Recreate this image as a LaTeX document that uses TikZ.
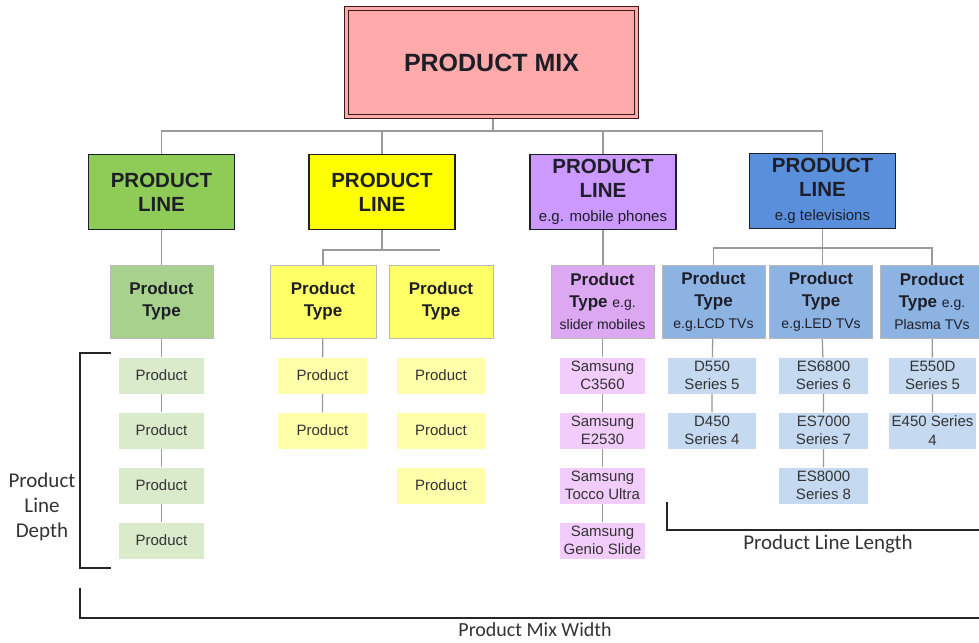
\documentclass[tikz,border=0pt]{standalone}
\usepackage{fontspec}
\setmainfont{Liberation Sans}
\newfontfamily\calib{Carlito}
\usetikzlibrary{backgrounds}
\definecolor{mixfill}{HTML}{FFAAAA}
\definecolor{mixline}{HTML}{3A1A1A}
\definecolor{lgfill}{HTML}{8FCB57}
\definecolor{lyfill}{HTML}{FFFF00}
\definecolor{lpfill}{HTML}{CC99FF}
\definecolor{lbfill}{HTML}{5A8FDB}
\definecolor{tgfill}{HTML}{A9D18E}
\definecolor{tyfill}{HTML}{FFFF66}
\definecolor{tpfill}{HTML}{DDA8F2}
\definecolor{tbfill}{HTML}{8DB3E2}
\definecolor{pgfill}{HTML}{D9EBCB}
\definecolor{pyfill}{HTML}{FFFFAA}
\definecolor{ppfill}{HTML}{F2CCFA}
\definecolor{pbfill}{HTML}{C5D9F1}
\definecolor{textdark}{HTML}{1E1E28}
\definecolor{textgray}{HTML}{333333}
\definecolor{conn}{HTML}{9A9A9A}
\begin{document}
\begin{tikzpicture}[x=1pt,y=-1pt,
  mixbox/.style={draw=mixline, line width=1.3pt, double=mixfill, double distance=2.2pt, fill=mixfill,
    minimum width=290pt, minimum height=108pt, inner sep=0pt, text=textdark,
    font=\fontsize{25}{30}\selectfont\bfseries},
  plbox/.style={draw=textdark, line width=1.2pt, fill=#1, minimum width=146pt, minimum height=75pt,
    align=center, inner sep=0pt, text=textdark, font=\fontsize{20.5}{24}\selectfont\bfseries},
  ptbox/.style={draw=gray!55, line width=0.8pt, fill=#1, minimum width=103pt, minimum height=73pt,
    align=center, inner sep=0pt, text=textdark, font=\fontsize{17}{22}\selectfont\bfseries},
  prodbox/.style={fill=#1, minimum width=87pt, minimum height=36pt, align=center, inner sep=0pt,
    text=textgray, font=\fontsize{15}{18.5}\selectfont},
  connector/.style={draw=conn, line width=1.3pt},
  bracket/.style={draw=black!85, line width=1.6pt},
  lbl/.style={align=center, text=textgray, font=\calib\fontsize{21}{25}\selectfont}
]
\useasboundingbox (0,0) rectangle (979,642);
\clip (0,0) rectangle (979,642);

% top
\node[mixbox] (mix) at (491.5,62.5) {PRODUCT MIX};

% product lines
\node[plbox=lgfill] (lg) at (161.5,192) {PRODUCT\\LINE};
\node[plbox=lyfill] (ly) at (382,192) {PRODUCT\\LINE};
\node[plbox=lpfill] (lp) at (603,192) {PRODUCT\\LINE\\{\fontsize{15}{24}\selectfont\mdseries e.g. mobile phones}};
\node[plbox=lbfill] (lb) at (822.5,191) {PRODUCT\\LINE\\{\fontsize{15}{26}\selectfont\mdseries e.g televisions}};

% product types
\node[ptbox=tgfill] (tg) at (161.5,301.5) {Product\\Type};
\node[ptbox=tyfill, minimum width=106pt] (ty1) at (323,301.5) {Product\\Type};
\node[ptbox=tyfill, minimum width=104pt] (ty2) at (441,301.5) {Product\\Type};
\node[ptbox=tpfill] (tp) at (602.5,301.5) {Product\\Type {\mdseries\fontsize{14}{22}\selectfont e.g.}\\{\mdseries\fontsize{14}{21}\selectfont slider mobiles}};
\node[ptbox=tbfill] (tb1) at (713.5,301.5) {Product\\Type\\{\mdseries\fontsize{14}{21}\selectfont e.g.LCD TVs}};
\node[ptbox=tbfill] (tb2) at (821,301.5) {Product\\Type\\{\mdseries\fontsize{14}{21}\selectfont e.g.LED TVs}};
\node[ptbox=tbfill, minimum width=104pt] (tb3) at (932,301.5) {Product\\Type {\mdseries\fontsize{14}{22}\selectfont e.g.}\\{\mdseries\fontsize{14}{21}\selectfont Plasma TVs}};

% products green
\node[prodbox=pgfill, minimum width=85pt] (g1) at (161.5,375.5) {Product};
\node[prodbox=pgfill, minimum width=85pt] (g2) at (161.5,430.5) {Product};
\node[prodbox=pgfill, minimum width=85pt] (g3) at (161.5,485.5) {Product};
\node[prodbox=pgfill, minimum width=85pt] (g4) at (161.5,540.5) {Product};
% yellow
\node[prodbox=pyfill, minimum width=89pt] (ya1) at (322.5,375.5) {Product};
\node[prodbox=pyfill, minimum width=89pt] (ya2) at (322.5,430.5) {Product};
\node[prodbox=pyfill, minimum width=88pt] (yb1) at (441,375.5) {Product};
\node[prodbox=pyfill, minimum width=88pt] (yb2) at (441,430.5) {Product};
\node[prodbox=pyfill, minimum width=88pt] (yb3) at (441,485.5) {Product};
% purple
\node[prodbox=ppfill, minimum width=85pt] (p1) at (602.5,375.5) {Samsung\\C3560};
\node[prodbox=ppfill, minimum width=85pt] (p2) at (602.5,430.5) {Samsung\\E2530};
\node[prodbox=ppfill, minimum width=85pt] (p3) at (602.5,485.5) {Samsung\\Tocco Ultra};
\node[prodbox=ppfill, minimum width=85pt] (p4) at (602.5,540.5) {Samsung\\Genio Slide};
% blue
\node[prodbox=pbfill, minimum width=88pt] (ba1) at (712,375.5) {D550\\Series 5};
\node[prodbox=pbfill, minimum width=88pt] (ba2) at (712,430.5) {D450\\Series 4};
\node[prodbox=pbfill, minimum width=89pt] (bb1) at (823.5,375.5) {ES6800\\Series 6};
\node[prodbox=pbfill, minimum width=89pt] (bb2) at (823.5,430.5) {ES7000\\Series 7};
\node[prodbox=pbfill, minimum width=89pt] (bb3) at (823.5,485.5) {ES8000\\Series 8};
\node[prodbox=pbfill, minimum width=87pt] (bc1) at (932.5,375.5) {E550D\\Series 5};
\node[prodbox=pbfill, minimum width=87pt] (bc2) at (932.5,430.5) {E450 Series\\4};

% connectors
\begin{scope}[on background layer]
  \coordinate (bus) at (493,131);
  \coordinate (ybus) at (382,250);
  \coordinate (bbus) at (822,248);
  \draw[connector] (mix.south -| bus) -- (bus);
  \draw[connector] (lg.north) |- (lb.north |- bus) -- (lb.north);
  \draw[connector] (ly.north) -- (ly.north |- bus);
  \draw[connector] (lp.north) -- (lp.north |- bus);
  \draw[connector] (lg.south) -- (tg.north);
  \draw[connector] (ly.south) -- (ybus);
  \draw[connector] (ty1.north) |- (440,250);
  \draw[connector] (lp.south) -- (tp.north -| lp.south);
  \draw[connector] (lb.south) -- (tb2.north -| lb.south);
  \draw[connector] (tb1.north) |- (tb3.north |- bbus) -- (tb3.north);
  \draw[connector] (tg) -- (g1) -- (g2) -- (g3) -- (g4);
  \draw[connector] (ty1) -- (ya1) -- (ya2);
  \draw[connector] (tp) -- (p1) -- (p2) -- (p3) -- (p4);
  \draw[connector] (tb1) -- (ba1) -- (ba2);
  \draw[connector] (tb2) -- (bb1) -- (bb2) -- (bb3);
  \draw[connector] (tb3) -- (bc1) -- (bc2);
\end{scope}

% brackets
\coordinate (d1) at (111,353);
\coordinate (d2) at (111,568);
\draw[bracket] (d1) -| (80,568) -- (d2);
\node[lbl] (depth) at (42,507) {Product\\Line\\Depth};

\coordinate (w1) at (80,588);
\coordinate (w2) at (985,618);
\draw[bracket] (w1) |- (w2);
\node[lbl, font=\calib\fontsize{20}{24}\selectfont] (width) at (535,629.5) {Product Mix Width};

\coordinate (l1) at (667,502);
\coordinate (l2) at (985,530);
\draw[bracket] (l1) |- (l2);
\node[lbl] (length) at (828,544) {Product Line Length};
\end{tikzpicture}
\end{document}
